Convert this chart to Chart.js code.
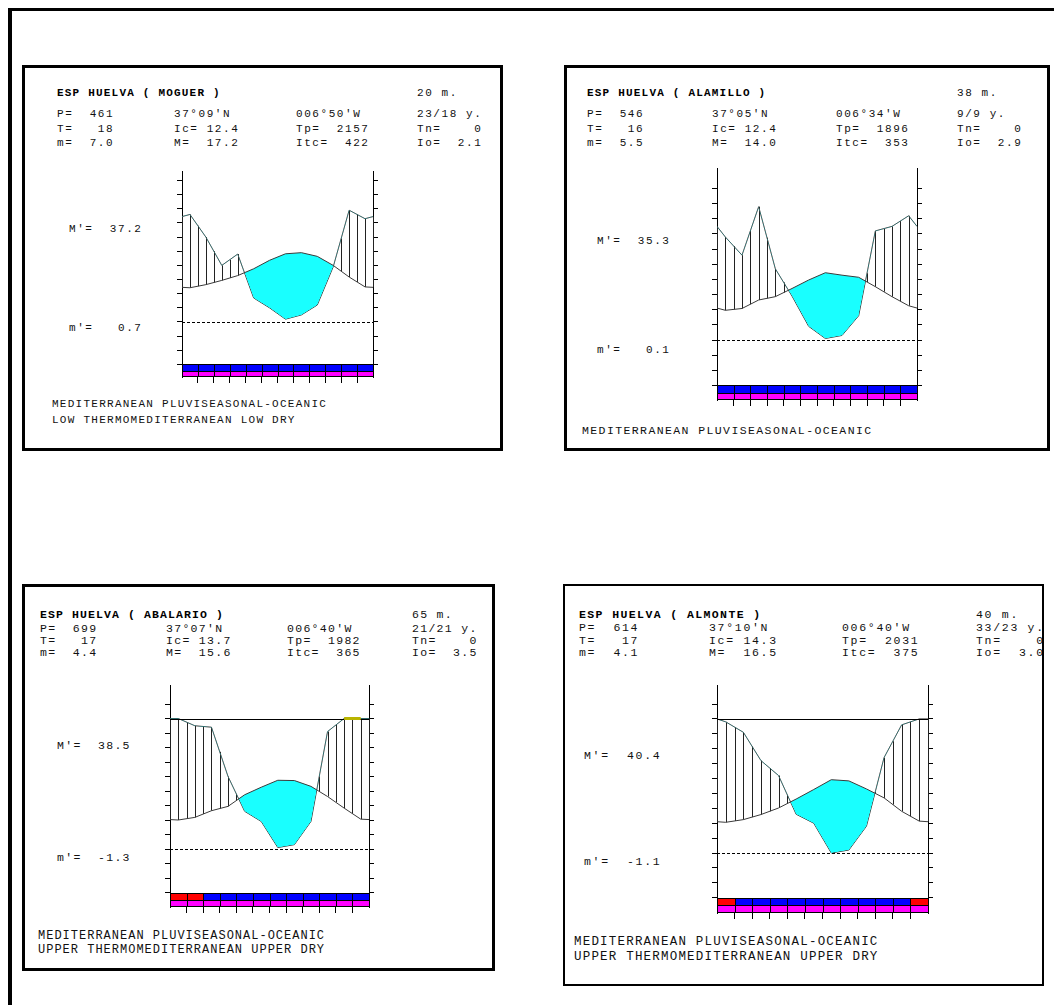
<!DOCTYPE html>
<html>
<head>
<meta charset="utf-8">
<script src="https://cdn.jsdelivr.net/npm/chart.js@4/dist/chart.umd.min.js"></script>
<style>
  html, body { margin:0; padding:0; background:#fff; width:1054px; height:1005px; overflow:hidden; position:relative; }
  #frame { position:absolute; left:8px; top:8px; width:1100px; height:1100px; border-left:4px solid #000; border-top:3px solid #000; }
  .edge { position:absolute; box-sizing:border-box; pointer-events:none; z-index:5; }
  .t { position:absolute; white-space:pre; line-height:11px; height:11px; color:#111; font-family:"Liberation Mono", monospace; z-index:3; }
  .b { font-weight:bold; color:#000; }
  canvas { position:absolute; z-index:2; }
</style>
</head>
<body>
<div id="frame"></div>
<script>
// ---- data -------------------------------------------------------------
const months = ['Jan','Feb','Mar','Apr','May','Jun','Jul','Aug','Sep','Oct','Nov','Dec'];
const tempTicks = [-15,-10,-5,0,5,10,15,20,25,30,35,40,45,50];
const monthTicks = [1,2,3,4,5,6,7,8,9,10,11];
const precipCap = 90; // mm; higher monthly totals are clipped at this line

// mean monthly temperature (°C) and precipitation (mm)
const moguerTemp   = [12.1,13.2,14.7,16.4,18.8,21.8,24.1,24.5,23.2,20.0,15.9,12.4];
const moguerPrec   = [76,60,40,48,17,10,2,5,12,39,79,73];
const alamilloTemp = [9.8,10.4,13.2,14.3,17.0,19.8,22.2,21.4,20.7,17.6,14.3,11.3];
const alamilloPrec = [68,56,88,47,29,9,1,3,16,72,75,82];
const abalarioTemp = [10.0,10.9,13.2,14.7,18.7,21.3,23.7,23.6,21.6,18.1,14.1,10.3];
const abalarioPrec = [90,85,84,50,26,19,1,3,19,81,118,123];
const almonteTemp  = [10.3,11.2,12.9,15.1,18.1,21.3,24.6,24.2,21.5,18.5,14.0,10.7];
const almontePrec  = [88,81,62,52,26,20,0,2,18,64,86,115];

// frost strip: B = no frost, R = frost possible
const moguerFrost   = ['B','B','B','B','B','B','B','B','B','B','B','B'];
const alamilloFrost = ['B','B','B','B','B','B','B','B','B','B','B','B'];
const abalarioFrost = ['R','R','B','B','B','B','B','B','B','B','B','B'];
const almonteFrost  = ['R','B','B','B','B','B','B','B','B','B','B','R'];

// station header texts
const moguerText = {
  title:'ESP HUELVA ( MOGUER )', alt:'20 m.',
  rows:[['P=  461',"37°09'N","006°50'W",'23/18 y.'],
        ['T=   18','Ic= 12.4','Tp=  2157','Tn=    0'],
        ['m=  7.0','M=  17.2','Itc=  422','Io=  2.1']],
  hi:"M'=  37.2", lo:"m'=   0.7",
  foot:['MEDITERRANEAN PLUVISEASONAL-OCEANIC','LOW THERMOMEDITERRANEAN LOW DRY']
};
const alamilloText = {
  title:'ESP HUELVA ( ALAMILLO )', alt:'38 m.',
  rows:[['P=  546',"37°05'N","006°34'W",'9/9 y.'],
        ['T=   16','Ic= 12.4','Tp=  1896','Tn=    0'],
        ['m=  5.5','M=  14.0','Itc=  353','Io=  2.9']],
  hi:"M'=  35.3", lo:"m'=   0.1",
  foot:['MEDITERRANEAN PLUVISEASONAL-OCEANIC']
};
const abalarioText = {
  title:'ESP HUELVA ( ABALARIO )', alt:'65 m.',
  rows:[['P=  699',"37°07'N","006°40'W",'21/21 y.'],
        ['T=   17','Ic= 13.7','Tp=  1982','Tn=    0'],
        ['m=  4.4','M=  15.6','Itc=  365','Io=  3.5']],
  hi:"M'=  38.5", lo:"m'=  -1.3",
  foot:['MEDITERRANEAN PLUVISEASONAL-OCEANIC','UPPER THERMOMEDITERRANEAN UPPER DRY']
};
const almonteText = {
  title:'ESP HUELVA ( ALMONTE )', alt:'40 m.',
  rows:[['P=  614',"37°10'N","006°40'W",'33/23 y.'],
        ['T=   17','Ic= 14.3','Tp=  2031','Tn=    0'],
        ['m=  4.1','M=  16.5','Itc=  375','Io=  3.0']],
  hi:"M'=  40.4", lo:"m'=  -1.1",
  foot:['MEDITERRANEAN PLUVISEASONAL-OCEANIC','UPPER THERMOMEDITERRANEAN UPPER DRY']
};

// ---- layout -----------------------------------------------------------
const panels = [
  { temp:moguerTemp, prec:moguerPrec, frost:moguerFrost, text:moguerText,
    box:{x:22,y:65,w:481,h:386,bw:3},
    plot:{xL:182,xR:373,y0:322,k:2.83,yTop:171,yBot:377},
    font:{size:11, ls:1.57, titleLs:1.2}, cols:[57,174,296,417], titleY:93, rowsY:[114,128.5,143],
    hiPos:[69,229], loPos:[69,328], footX:52, footY:[404,420], footFont:{size:11,ls:1.26} },
  { temp:alamilloTemp, prec:alamilloPrec, frost:alamilloFrost, text:alamilloText,
    box:{x:564,y:65,w:486,h:386,bw:3},
    plot:{xL:717,xR:917,y0:340,k:3.03,yTop:168,yBot:400},
    font:{size:11, ls:1.57, titleLs:1.2}, cols:[587,712,836,957], titleY:93, rowsY:[114,128.5,143],
    hiPos:[597,241], loPos:[597,350], footX:582, footY:[430], footFont:{size:11.5,ls:1.4} },
  { temp:abalarioTemp, prec:abalarioPrec, frost:abalarioFrost, text:abalarioText,
    box:{x:22,y:584,w:473,h:387,bw:3},
    plot:{xL:170,xR:369,y0:849,k:2.9,yTop:685,yBot:907},
    font:{size:11.5, ls:1.3, titleLs:1.1}, cols:[40,166,287,412], titleY:614, rowsY:[627.5,640,651.7],
    hiPos:[57,745], loPos:[57,857], footX:38, footY:[936,950], footFont:{size:12,ls:1.0} },
  { temp:almonteTemp, prec:almontePrec, frost:almonteFrost, text:almonteText,
    box:{x:563,y:584,w:481,h:402,bw:2},
    plot:{xL:717,xR:928,y0:853,k:2.98,yTop:685,yBot:913},
    font:{size:11.5, ls:1.7, titleLs:1.4}, cols:[579,709,842,976], titleY:613.7, rowsY:[627,639.5,651.5],
    hiPos:[584,755], loPos:[584,861], footX:574, footY:[942,957], footFont:{size:12.5,ls:1.2} }
];

// ---- helpers ----------------------------------------------------------
function addText(x, cy, str, size, ls, bold) {
  const d = document.createElement('div');
  d.className = 't' + (bold ? ' b' : '');
  d.style.fontSize = size + 'px';
  d.style.letterSpacing = ls + 'px';
  d.style.left = x + 'px';
  d.style.top = (cy - 5.5 + 0.0635 * size) + 'px';
  d.textContent = str;
  document.body.appendChild(d);
}

// monthly values sit at mid-month; the ends of the year join Dec and Jan
function yearSeries(values, map) {
  const v = values.map(map);
  const wrap = map((values[11] + values[0]) / 2);
  const pts = [{x:0, y:wrap}];
  v.forEach((val, i) => pts.push({x:i + 0.5, y:val}));
  pts.push({x:12, y:wrap});
  return pts;
}

function valueAt(points, xv) {
  for (let i = 0; i < points.length - 1; i++) {
    const a = points[i], b = points[i + 1];
    if (xv >= a.x && xv <= b.x) return a.y + (b.y - a.y) * (xv - a.x) / (b.x - a.x);
  }
  return points[points.length - 1].y;
}

// vertical hatching where rainfall exceeds the 2:1 temperature line
const hatchPlugin = {
  id:'hatch',
  beforeDatasetsDraw(chart) {
    const {ctx, scales:{x, y}} = chart;
    const tPts = chart.data.datasets[0].data, pPts = chart.data.datasets[1].data;
    ctx.save();
    ctx.strokeStyle = '#222';
    ctx.lineWidth = 1;
    for (let s = 0; s <= 24; s++) {
      const xv = s / 2;
      const t = valueAt(tPts, xv), p = valueAt(pPts, xv);
      if (p > t + 0.05) {
        const px = Math.round(x.getPixelForValue(xv)) + 0.5;
        ctx.beginPath();
        ctx.moveTo(px, y.getPixelForValue(t));
        ctx.lineTo(px, y.getPixelForValue(p));
        ctx.stroke();
      }
    }
    ctx.restore();
  }
};

// zero line, rainfall cap line and the monthly colour strips
const decorPlugin = {
  id:'decor',
  afterDatasetsDraw(chart, args, opts) {
    const {ctx, chartArea:a, scales:{x, y}} = chart;
    ctx.save();
    // 0 °C dashed line
    const y0 = Math.round(y.getPixelForValue(0)) + 0.5;
    ctx.strokeStyle = '#000';
    ctx.lineWidth = 1;
    ctx.setLineDash([3, 2]);
    ctx.beginPath(); ctx.moveTo(a.left, y0); ctx.lineTo(a.right, y0); ctx.stroke();
    ctx.setLineDash([]);
    // cap line for very wet months
    if (opts.prec.some(v => v > opts.cap)) {
      const yc = Math.round(y.getPixelForValue(opts.cap / 2)) + 0.5;
      ctx.beginPath(); ctx.moveTo(a.left, yc); ctx.lineTo(a.right, yc); ctx.stroke();
      ctx.strokeStyle = '#b9b400';
      ctx.lineWidth = 3;
      for (let i = 0; i < 11; i++) {
        if (opts.prec[i] > opts.cap && opts.prec[i + 1] > opts.cap) {
          ctx.beginPath();
          ctx.moveTo(x.getPixelForValue(i + 0.5), yc - 1);
          ctx.lineTo(x.getPixelForValue(i + 1.5), yc - 1);
          ctx.stroke();
        }
      }
    }
    // strips below the plot
    const yA = y.getPixelForValue(-15), yB = y.getPixelForValue((-15 + y.min) / 2), yC = y.getPixelForValue(y.min);
    ctx.lineWidth = 1;
    ctx.strokeStyle = '#000';
    for (let i = 0; i < 12; i++) {
      const x1 = Math.round(x.getPixelForValue(i)), x2 = Math.round(x.getPixelForValue(i + 1));
      ctx.fillStyle = opts.frost[i] === 'R' ? '#ff0000' : '#0000ff';
      ctx.fillRect(x1, Math.round(yA), x2 - x1, Math.round(yB) - Math.round(yA));
      ctx.fillStyle = '#ff00ff';
      ctx.fillRect(x1, Math.round(yB), x2 - x1, Math.round(yC) - Math.round(yB));
      ctx.strokeRect(x1 + 0.5, Math.round(yA) + 0.5, x2 - x1, Math.round(yB) - Math.round(yA));
      ctx.strokeRect(x1 + 0.5, Math.round(yB) + 0.5, x2 - x1, Math.round(yC) - Math.round(yB) - 1);
    }
    ctx.restore();
  }
};

function yAxis(pos, yMin, yMax) {
  return {
    type:'linear', position:pos, min:yMin, max:yMax,
    afterBuildTicks: s => { s.ticks = tempTicks.map(v => ({value:v})); },
    ticks:{display:false},
    grid:{drawOnChartArea:false, drawTicks:true, tickLength:5, color:'#000', lineWidth:1},
    border:{display:true, color:'#000', width:1}
  };
}

// ---- build ------------------------------------------------------------
panels.forEach(pn => {
  const bx = document.createElement('div');
  bx.className = 'edge';
  Object.assign(bx.style, {left:pn.box.x + 'px', top:pn.box.y + 'px', width:pn.box.w + 'px',
    height:pn.box.h + 'px', border:pn.box.bw + 'px solid #000'});
  document.body.appendChild(bx);

  const T = pn.text, f = pn.font;
  addText(pn.cols[0], pn.titleY, T.title, f.size, f.titleLs, true);
  addText(pn.cols[3], pn.titleY, T.alt, f.size, f.ls, false);
  T.rows.forEach((row, r) => row.forEach((cell, c) => addText(pn.cols[c], pn.rowsY[r], cell, f.size, f.ls, false)));
  addText(pn.hiPos[0], pn.hiPos[1], T.hi, f.size, f.ls, false);
  addText(pn.loPos[0], pn.loPos[1], T.lo, f.size, f.ls, false);
  T.foot.forEach((line, i) => addText(pn.footX, pn.footY[i], line, pn.footFont.size, pn.footFont.ls, false));

  const p = pn.plot;
  const yMax = (p.y0 - p.yTop) / p.k;
  const yMin = (p.y0 - p.yBot) / p.k;
  const cv = document.createElement('canvas');
  const W = p.xR - p.xL + 10, H = p.yBot - p.yTop + 6;
  cv.width = W; cv.height = H;
  Object.assign(cv.style, {left:(p.xL - 5) + 'px', top:p.yTop + 'px', width:W + 'px', height:H + 'px'});
  document.body.appendChild(cv);

  new Chart(cv, {
    type:'line',
    data:{
      datasets:[
        { label:'Temperature', data:yearSeries(pn.temp, v => v),
          borderColor:'#3a3a3a', borderWidth:1, pointRadius:0, tension:0,
          fill:{target:'+1', above:'#19ffff', below:'rgba(0,0,0,0)'} },
        { label:'Precipitation', data:yearSeries(pn.prec, v => Math.min(v, precipCap) / 2),
          borderColor:'#3a3a3a', borderWidth:1, pointRadius:0, tension:0, fill:false }
      ]
    },
    options:{
      responsive:false, animation:false, events:[],
      layout:{padding:0},
      plugins:{ legend:{display:false}, tooltip:{enabled:false},
                decor:{frost:pn.frost, prec:pn.prec, cap:precipCap} },
      scales:{
        x:{ type:'linear', position:'bottom', min:0, max:12,
            afterBuildTicks: s => { s.ticks = monthTicks.map(v => ({value:v})); },
            ticks:{display:false},
            grid:{drawOnChartArea:false, drawTicks:true, tickLength:6, color:'#000'},
            border:{display:false} },
        y: yAxis('left', yMin, yMax),
        y2: yAxis('right', yMin, yMax)
      }
    },
    plugins:[hatchPlugin, decorPlugin]
  });
});
</script>
</body>
</html>
